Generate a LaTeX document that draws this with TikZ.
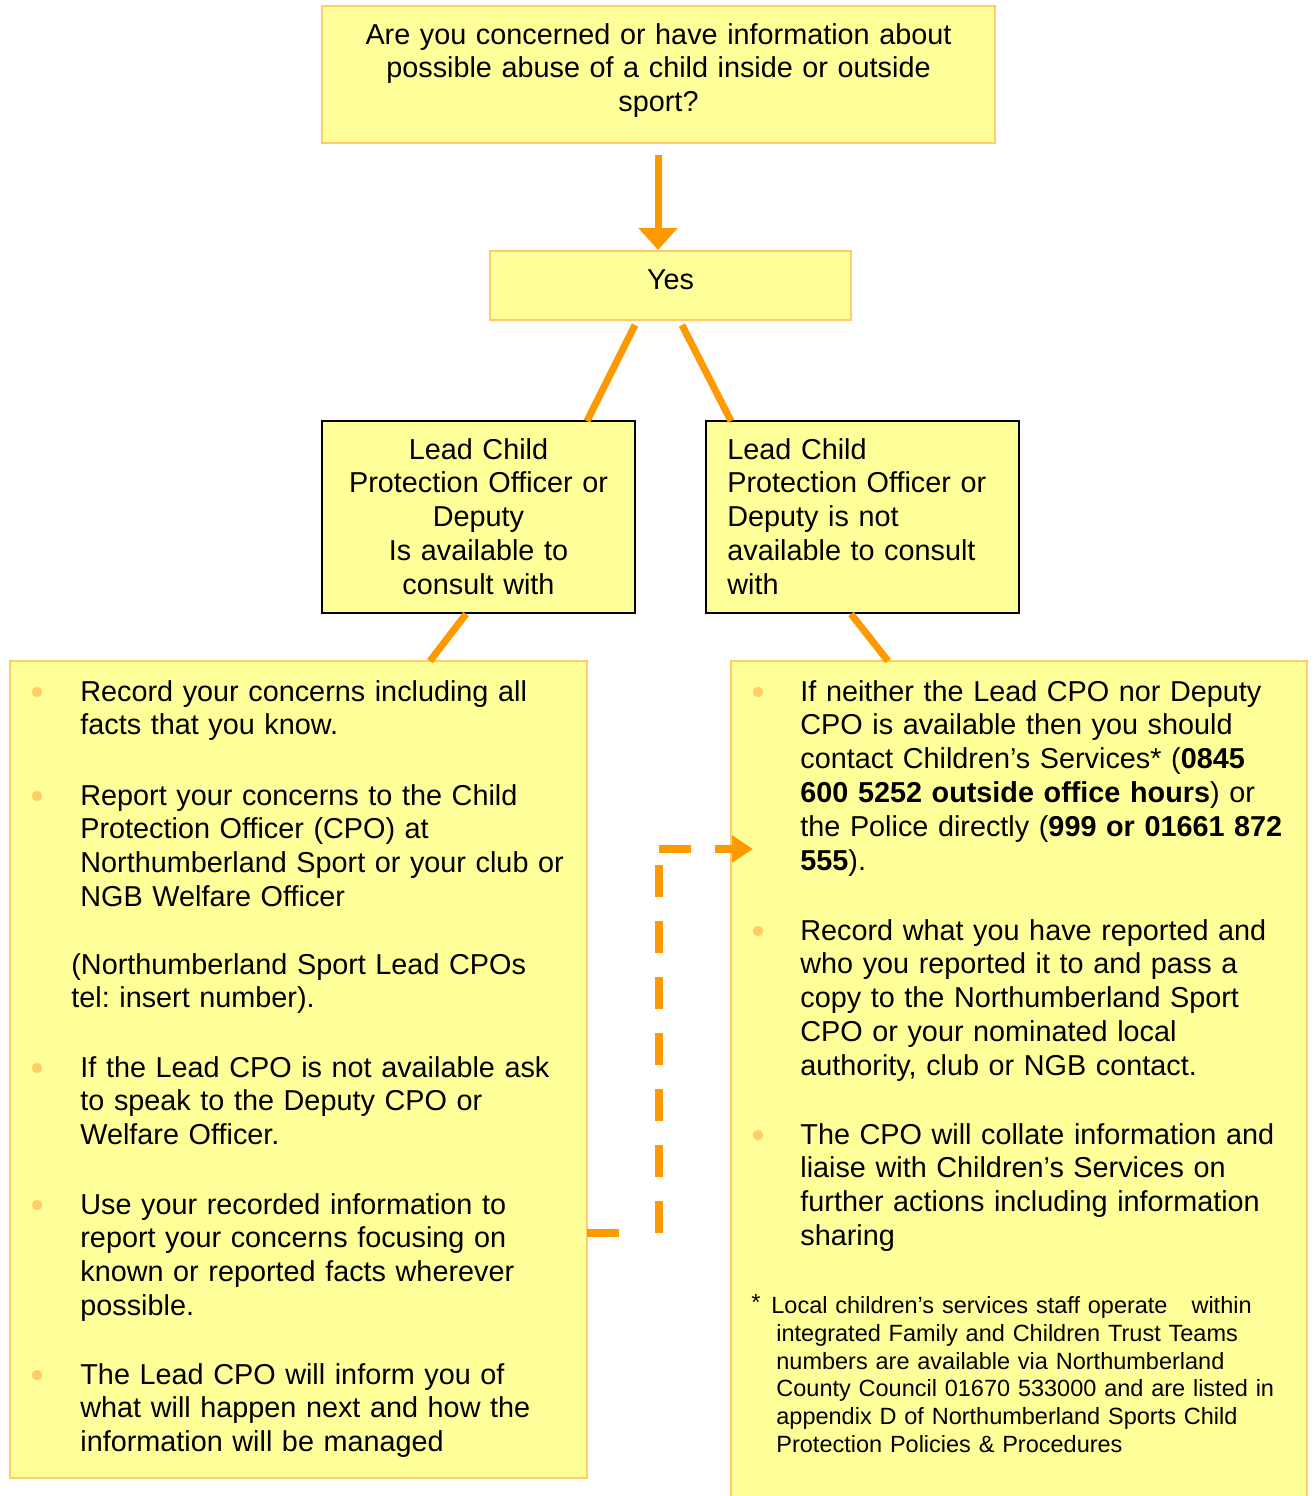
\documentclass[tikz,border=0pt]{standalone}
\usepackage{fontspec}
\setmainfont{Liberation Sans}
\usetikzlibrary{arrows.meta,calc}
\definecolor{boxfill}{HTML}{FFFF99}
\definecolor{boxline}{HTML}{FFCC66}
\definecolor{connc}{HTML}{FF9900}
\definecolor{bulc}{HTML}{FFCC66}
\frenchspacing
\begin{document}
\begin{tikzpicture}[x=0.5pt,y=-0.5pt,
  ybox/.style={draw=boxline, line width=1pt, fill=boxfill, inner sep=0pt, outer sep=0pt},
  kbox/.style={draw=black, line width=1pt, fill=boxfill, inner sep=0pt, outer sep=0pt},
  txt/.style={inner sep=0pt, font=\fontsize{14.4}{16.9}\selectfont, text width=300pt, align=left, anchor=base west},
  ctxt/.style={inner sep=0pt, font=\fontsize{14.4}{16.9}\selectfont, text width=320pt, align=center, anchor=base},
  ftxt/.style={inner sep=0pt, font=\fontsize{11.75}{13.9}\selectfont, text width=300pt, align=left, anchor=base west},
  connline/.style={draw=connc, line width=3.5pt},
  dashline/.style={draw=connc, line width=3.8pt, dash pattern=on 16pt off 12pt},
  bulletdot/.style={fill=bulc}]
\useasboundingbox (0,0) rectangle (1314,1496);
\fill[white] (0,0) rectangle (1314,1496);

% boxes
\node[ybox, minimum width=336.5pt, minimum height=68.5pt] (top) at (658.5,74.5) {};
\node[ybox, minimum width=180.5pt, minimum height=34.5pt] (yes) at (670.5,285.5) {};
\node[kbox, minimum width=156.5pt, minimum height=96pt] (lm) at (478.5,517) {};
\node[kbox, minimum width=156.5pt, minimum height=96pt] (rm) at (862.5,517) {};
\node[ybox, minimum width=288.5pt, minimum height=408.5pt] (lb) at (298.5,1069.5) {};
\node[ybox, minimum width=288pt, minimum height=424.5pt] (rb) at (1019,1085.5) {};

% texts
\node[ctxt] (t1) at (658.5,44) {Are you concerned or have information about\\possible abuse of a child inside or outside\\sport?};
\node[ctxt] (t2) at (670.5,289) {Yes};
\node[ctxt] (t3) at (478.5,459) {Lead Child\\Protection Officer or\\Deputy\\Is available to\\consult with};
\node[txt] (t4) at (727,459) {Lead Child\\Protection Officer or\\Deputy is not\\available to consult\\with};

\node[txt] (l1) at (80,701) {Record your concerns including all\\facts that you know.};
\node[txt] (l2) at (80,805) {Report your concerns to the Child\\Protection Officer (CPO) at\\Northumberland Sport or your club or\\NGB Welfare Officer};
\node[txt] (l3) at (71,974) {(Northumberland Sport Lead CPOs\\tel: insert number).};
\node[txt] (l4) at (80,1077) {If the Lead CPO is not available ask\\to speak to the Deputy CPO or\\Welfare Officer.};
\node[txt] (l5) at (80,1214) {Use your recorded information to\\report your concerns focusing on\\known or reported facts wherever\\possible.};
\node[txt] (l6) at (80,1384) {The Lead CPO will inform you of\\what will happen next and how the\\information will be managed};

\node[txt] (r1) at (800,701) {If neither the Lead CPO nor Deputy\\CPO is available then you should\\contact Children’s Services* (\textbf{0845}\\\textbf{600 5252 outside office hours}) or\\the Police directly (\textbf{999 or 01661 872}\\\textbf{555}).};
\node[txt] (r2) at (800,940) {Record what you have reported and\\who you reported it to and pass a\\copy to the Northumberland Sport\\CPO or your nominated local\\authority, club or NGB contact.};
\node[txt] (r3) at (800,1144) {The CPO will collate information and\\liaise with Children’s Services on\\further actions including information\\sharing};
\node[ftxt] (fstar) at (751,1310) {*};
\node[ftxt] (fn) at (776,1313.5) {\hspace*{-2.5pt}Local children’s services staff operate\hspace{12pt}within\\integrated Family and Children Trust Teams\\numbers are available via Northumberland\\County Council 01670 533000 and are listed in\\appendix D of Northumberland Sports Child\\Protection Policies \& Procedures};

% bullets
\foreach \p in {(37,692),(37,796),(37,1068),(37,1205),(37,1375),(758,692),(758,931),(758,1135)}
  \fill[bulletdot] \p circle (2.6pt);

% connectors
\draw[connline, -{Triangle[length=11pt,width=19pt]}] ($(top.south)+(-0.5,12)$) -- ($(yes.north)+(-12.5,-1)$);
\draw[connline] ($(yes.south)+(-35.5,5)$) -- ($(lm.north)+(108.5,0)$);
\draw[connline] ($(yes.south)+(11.5,5)$) -- ($(rm.north)+(-131.5,0)$);
\draw[connline] ($(lm.south)+(-12.5,1)$) -- ($(lb.north)+(131.5,0)$);
\draw[connline] ($(rm.south)+(-11.5,1)$) -- ($(rb.north)+(-131,0)$);

% dashed connector
\coordinate (d1) at ($(lb.north east)+(0,572)$);
\coordinate (d2) at ($(d1)+(72,0)$);
\coordinate (d3) at ($(rb.north west)+(-72,188)$);
\draw[dashline, dash pattern=on 16pt off 40pt] (d1) -- (d2);
\draw[dashline] (d2) -- (d3);
\draw[dashline, -{Triangle[length=10.5pt,width=13pt]}] (d3) -- ($(rb.north west)+(22,188)$);
\end{tikzpicture}
\end{document}
